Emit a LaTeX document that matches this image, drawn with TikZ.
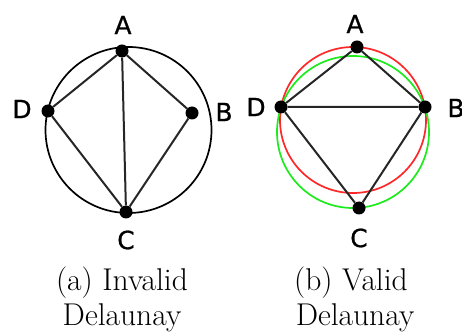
\documentclass[tikz,border=0pt]{standalone}
\usepackage{fontspec}
\newfontfamily\lblfont[FakeBold=0.8]{DejaVu Sans}
\definecolor{cred}{RGB}{255,40,40}
\definecolor{cgreen}{RGB}{30,235,30}
\begin{document}
\begin{tikzpicture}[x=1pt,y=-1pt,
  vdot/.style={circle,fill=black,inner sep=0pt,minimum size=13pt},
  lbl/.style={font=\lblfont\fontsize{25}{29}\selectfont,inner sep=0pt},
  captext/.style={font=\fontsize{31.5}{36}\selectfont,anchor=base,inner sep=0pt},
  link/.style={line width=2pt,black!85},
  circ/.style={line width=1.7pt}]
\useasboundingbox (0,0) rectangle (462,336);
% left figure
\draw[circ] (128.5,130) circle (83);
\node[vdot] (A1) at (122,51) {};
\node[vdot] (D1) at (48,111) {};
\node[vdot] (B1) at (192,113) {};
\node[vdot] (C1) at (126,212) {};
\draw[link] (A1) -- (D1) (A1) -- (B1) (A1) -- (C1) (D1) -- (C1) (B1) -- (C1);
\node[lbl] (lA1) at (123,25) {A};
\node[lbl] (lD1) at (22,109) {D};
\node[lbl] (lB1) at (224,112) {B};
\node[lbl] (lC1) at (126,240) {C};
% right figure
\draw[circ,cred] (353,120) circle (73);
\draw[circ,cgreen] (353,132) circle (76);
\node[vdot] (A2) at (357,47) {};
\node[vdot] (D2) at (281,107) {};
\node[vdot] (B2) at (425,107) {};
\node[vdot] (C2) at (359,208) {};
\draw[link] (A2) -- (D2) (A2) -- (B2) (D2) -- (B2) (D2) -- (C2) (B2) -- (C2);
\node[lbl] (lA2) at (355,24) {A};
\node[lbl] (lD2) at (256,107) {D};
\node[lbl] (lB2) at (456,108) {B};
\node[lbl] (lC2) at (359,238) {C};
% captions
\node[captext] (ca1) at (122,290) {(a) Invalid};
\node[captext] (ca2) at (122,325) {Delaunay};
\node[captext] (cb1) at (351,290) {(b) Valid};
\node[captext] (cb2) at (355,325) {Delaunay};
\end{tikzpicture}
\end{document}
